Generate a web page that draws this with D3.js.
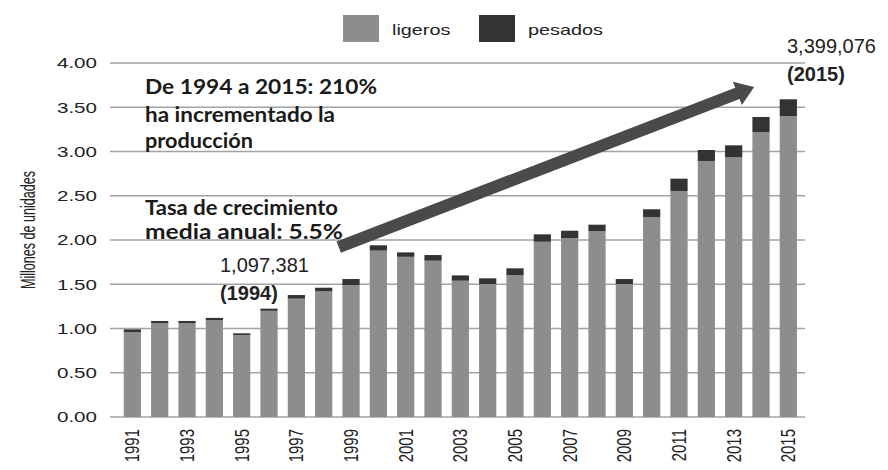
<!DOCTYPE html>
<html>
<head>
<meta charset="utf-8">
<script src="https://cdn.jsdelivr.net/npm/d3@7"></script>
<style>
  html, body { margin: 0; padding: 0; background: #fff; }
  svg { display: block; }
</style>
</head>
<body>
<svg id="chart" width="888" height="470"></svg>
<script>
// ---- data ----
const years = [1991,1992,1993,1994,1995,1996,1997,1998,1999,2000,2001,2002,2003,2004,2005,2006,2007,2008,2009,2010,2011,2012,2013,2014,2015];
const ligeros = [0.960,1.060,1.060,1.095,0.927,1.200,1.337,1.420,1.490,1.880,1.810,1.766,1.540,1.503,1.604,1.980,2.020,2.100,1.503,2.260,2.554,2.893,2.934,3.217,3.399];
const pesados = [0.030,0.025,0.025,0.025,0.019,0.024,0.041,0.041,0.069,0.060,0.050,0.064,0.060,0.064,0.076,0.084,0.085,0.073,0.056,0.087,0.139,0.124,0.136,0.173,0.191];
const yTicks = [0, 0.5, 1, 1.5, 2, 2.5, 3, 3.5, 4];
const xTickYears = [1991,1993,1995,1997,1999,2001,2003,2005,2007,2009,2011,2013,2015];
const seriesNames = ["ligeros", "pesados"];
const seriesColors = ["#8d8d8d", "#333333"];
const annotationLines1 = ["De 1994 a 2015: 210%", "ha incrementado la", "producción"];
const annotationLines2 = ["Tasa de crecimiento", "media anual: 5.5%"];
const label1994 = ["1,097,381", "(1994)"];
const label2015 = ["3,399,076", "(2015)"];
const arrowFrom = { year: 1998.55, value: 1.92 };
const arrowTo = { year: 2013.75, value: 3.73 };

// ---- layout ----
const svg = d3.select("#chart");
const x = d3.scaleBand().domain(years).range([118.7, 802]).paddingInner(0.37).paddingOuter(0.185);
const y = d3.scaleLinear().domain([0, 4]).range([417, 63]);
const xYear = d3.scaleLinear().domain([years[0], years[years.length-1]])
  .range([x(years[0]) + x.bandwidth()/2, x(years[years.length-1]) + x.bandwidth()/2]);

const rows = years.map((yr, i) => ({ year: yr, ligeros: ligeros[i], pesados: pesados[i] }));
const stack = d3.stack().keys(seriesNames)(rows);

// gridlines
svg.append("g").selectAll("line").data(yTicks).join("line")
  .attr("x1", 110).attr("x2", 805)
  .attr("y1", d => y(d)).attr("y2", d => y(d))
  .attr("stroke", "#a3a3a3").attr("stroke-width", 1.4);

// y tick labels
const yl = svg.append("g").selectAll("text").data(yTicks).join("text")
  .attr("x", 97).attr("y", d => y(d)).attr("dy", "0.36em")
  .attr("text-anchor", "end")
  .attr("font-family", "Liberation Sans, Arial, sans-serif")
  .attr("font-size", 15).attr("fill", "#222")
  .text(d => d.toFixed(2));
yl.each(function() { const w = this.getComputedTextLength(); d3.select(this).attr("textLength", w * 1.37).attr("lengthAdjust", "spacingAndGlyphs"); });

// y title
svg.append("text")
  .attr("transform", `translate(28,230) rotate(-90) scale(1,1.3)`)
  .attr("text-anchor", "middle")
  .attr("dy", "0.36em")
  .attr("font-family", "Liberation Sans, Arial, sans-serif")
  .attr("font-size", 15).attr("fill", "#222")
  .attr("textLength", 118).attr("lengthAdjust", "spacingAndGlyphs")
  .text("Millones de unidades");

// bars
svg.append("g").selectAll("g").data(stack).join("g")
  .attr("fill", (d, i) => seriesColors[i])
  .selectAll("rect").data(d => d).join("rect")
  .attr("x", d => x(d.data.year))
  .attr("width", x.bandwidth())
  .attr("y", d => y(d[1]))
  .attr("height", d => y(d[0]) - y(d[1]));

// x labels
svg.append("g").selectAll("text").data(xTickYears).join("text")
  .attr("transform", d => `translate(${x(d) + x.bandwidth()/2},429) rotate(-90) scale(1,1.3)`)
  .attr("dy", "0.36em")
  .attr("text-anchor", "end")
  .attr("font-family", "Liberation Sans, Arial, sans-serif")
  .attr("font-size", 15).attr("fill", "#222")
  .text(d => d);

// legend
const legX = [343, 479];
const leg = svg.append("g").selectAll("g").data(seriesNames).join("g")
  .attr("transform", (d, i) => `translate(${legX[i]},15)`);
leg.append("rect").attr("width", 36).attr("height", 27).attr("fill", (d, i) => seriesColors[i]);
leg.append("text").attr("x", 49).attr("y", 20)
  .attr("font-family", "Liberation Sans, Arial, sans-serif")
  .attr("font-size", 15).attr("fill", "#222")
  .text(d => d)
  .each(function() { const w = this.getComputedTextLength(); d3.select(this).attr("textLength", w * 1.32).attr("lengthAdjust", "spacingAndGlyphs"); });

// arrow
(function() {
  const x0 = xYear(arrowFrom.year), y0 = y(arrowFrom.value);
  const x1 = xYear(arrowTo.year), y1 = y(arrowTo.value);
  const dx = x1 - x0, dy = y1 - y0, L = Math.hypot(dx, dy);
  const ux = dx / L, uy = dy / L, nx = -uy, ny = ux;
  const sw = 6, hw = 12.5, hl = 18;
  const bx = x1 - ux * hl, by = y1 - uy * hl;
  const pts = [
    [x0 + nx*sw, y0 + ny*sw], [bx + nx*sw, by + ny*sw], [bx + nx*hw, by + ny*hw],
    [x1, y1],
    [bx - nx*hw, by - ny*hw], [bx - nx*sw, by - ny*sw], [x0 - nx*sw, y0 - ny*sw]
  ];
  svg.append("polygon").attr("points", pts.map(p => p.join(",")).join(" "))
    .attr("fill", "#4a4a4a");
})();

// annotations
const annFont = "Lato, DejaVu Sans, sans-serif";
const ann1Y = [94, 122, 148], ann1W = [232, 190, 108];
const ann2Y = [215, 239], ann2W = [193, 198];
svg.append("g").selectAll("text").data(annotationLines1).join("text")
  .attr("x", 145).attr("y", (d, i) => ann1Y[i])
  .attr("font-family", annFont).attr("font-weight", "bold").attr("font-size", 21).attr("fill", "#1a1a1a")
  .attr("textLength", (d, i) => ann1W[i]).attr("lengthAdjust", "spacingAndGlyphs")
  .text(d => d);
svg.append("g").selectAll("text").data(annotationLines2).join("text")
  .attr("x", 145).attr("y", (d, i) => ann2Y[i])
  .attr("font-family", annFont).attr("font-weight", "bold").attr("font-size", 21).attr("fill", "#1a1a1a")
  .attr("textLength", (d, i) => ann2W[i]).attr("lengthAdjust", "spacingAndGlyphs")
  .text(d => d);

function valueLabel(lines, px, py) {
  const g = svg.append("g");
  g.append("text").attr("x", px).attr("y", py)
    .attr("font-family", "Liberation Sans, Arial, sans-serif").attr("font-size", 20).attr("fill", "#222")
    .text(lines[0]);
  g.append("text").attr("x", px).attr("y", py + 28)
    .attr("font-family", "Liberation Sans, Arial, sans-serif").attr("font-weight", "bold").attr("font-size", 20).attr("fill", "#222")
    .text(lines[1]);
}
valueLabel(label1994, 220, 272);
valueLabel(label2015, 787, 53);
</script>
</body>
</html>
